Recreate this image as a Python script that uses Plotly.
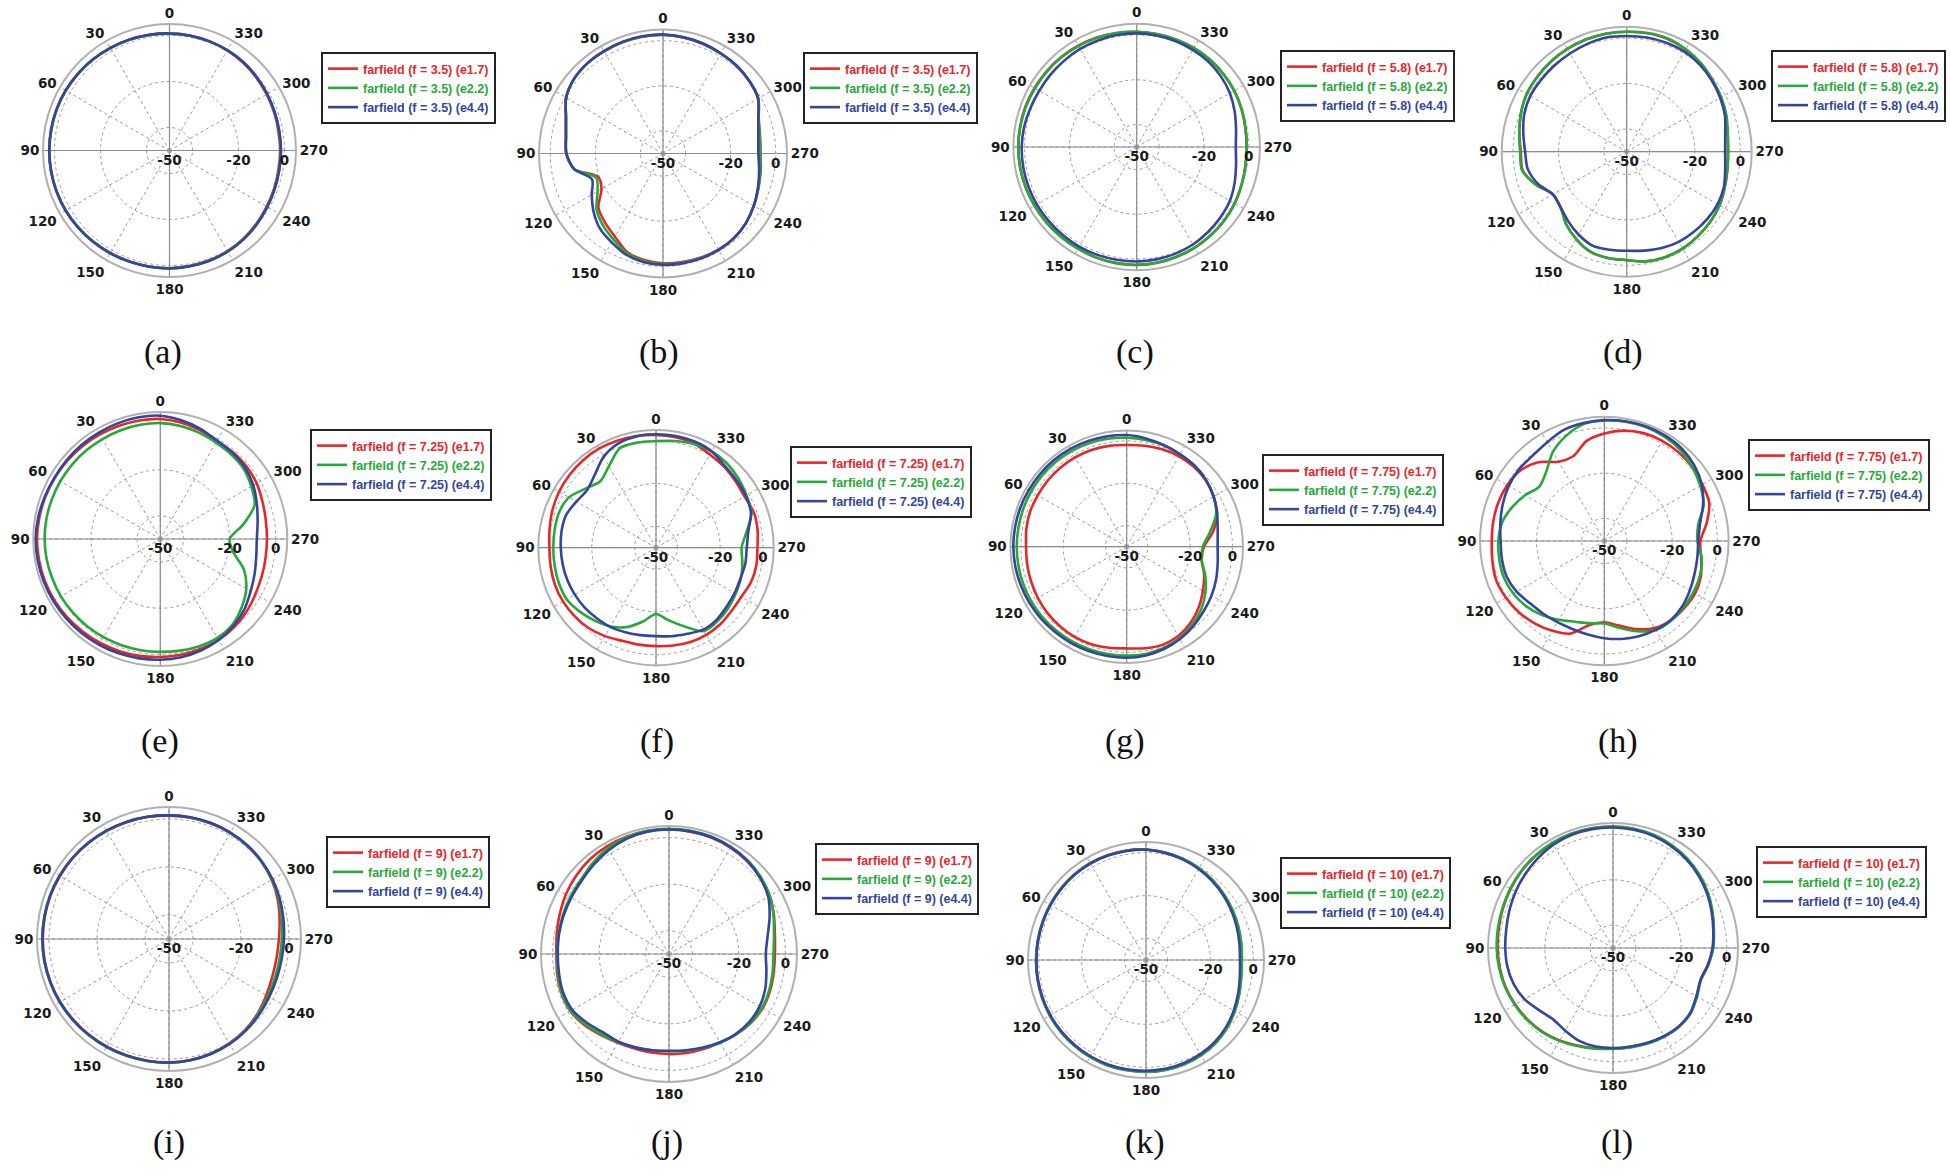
import plotly.graph_objects as go

W, H = 1950, 1176

# angle grid in degrees (0 at top, counter-clockwise), values in dB
ANGLES = list(range(0, 360, 10))
SERIES = ["e1.7", "e2.2", "e4.4"]
COLORS = ["#e8262a", "#27a83a", "#33459c"]
FREQS = ["3.5", "3.5", "5.8", "5.8", "7.25", "7.25", "7.75", "7.75", "9", "9", "10", "10"]
CAPTIONS = ["(a)", "(b)", "(c)", "(d)", "(e)", "(f)", "(g)", "(h)", "(i)", "(j)", "(k)", "(l)"]

A_RED = [0.8, 1.0, 1.2, 1.4, 1.7, 1.9, 2.1, 2.2, 2.2, 2.2, 2.2, 2.2, 2.1, 1.9, 1.7, 1.4, 1.3, 1.2,
         1.2, 1.0, 0.8, 0.5, 0.0, -0.6, -1.2, -1.6, -1.9, -1.9, -1.9, -1.6, -1.2, -0.7, -0.2, 0.2, 0.5, 0.7]
A_GREEN = [0.8, 1.0, 1.2, 1.4, 1.7, 1.9, 2.1, 2.2, 2.2, 2.3, 2.3, 2.2, 2.1, 1.9, 1.7, 1.5, 1.3, 1.2,
           1.2, 1.0, 0.9, 0.6, 0.2, -0.4, -1.0, -1.4, -1.6, -1.6, -1.6, -1.4, -1.0, -0.5, 0.0, 0.3, 0.5, 0.7]
A_BLUE = [0.9, 1.1, 1.3, 1.5, 1.8, 2.0, 2.2, 2.3, 2.3, 2.3, 2.3, 2.3, 2.2, 2.0, 1.8, 1.6, 1.4, 1.3,
          1.3, 1.1, 1.0, 0.7, 0.3, -0.3, -0.9, -1.3, -1.5, -1.5, -1.5, -1.3, -0.9, -0.4, 0.1, 0.4, 0.6, 0.8]

B_RED = [2.6, 2.6, 2.5, 2.3, 2.2, 1.5, -0.4, -4.2, -6.3, -7.0, -10.0, -19.5, -18.5, -12.6, -10.0, -7.4, -3.5, -2.0,
         -1.3, -1.1, -0.9, -0.8, -1.0, -2.0, -3.5, -5.0, -6.0, -6.7, -6.3, -4.8, -1.2, 0.0, 0.8, 1.2, 1.8, 2.3]
B_GREEN = [2.7, 2.7, 2.6, 2.4, 2.2, 1.5, -0.4, -4.2, -6.3, -7.1, -10.0, -18.5, -16.5, -11.5, -8.5, -6.0, -3.0, -1.5,
           -1.0, -0.8, -0.7, -0.7, -1.0, -2.0, -3.5, -5.0, -6.1, -6.8, -6.4, -4.9, -1.2, 0.0, 0.8, 1.2, 1.8, 2.3]
B_BLUE = [2.8, 2.8, 2.7, 2.4, 2.2, 1.5, -0.4, -4.2, -6.3, -7.2, -10.0, -16.5, -13.5, -9.8, -6.5, -4.5, -2.2, -1.0,
          -0.6, -0.5, -0.5, -0.6, -1.0, -2.0, -3.5, -5.2, -6.7, -7.7, -7.1, -5.0, -1.3, 0.0, 0.8, 1.3, 1.9, 2.4]

C_RED = [1.4, 1.6, 2.0, 2.2, 2.4, 2.5, 2.6, 2.8, 2.8, 2.8, 2.8, 2.7, 2.6, 2.5, 2.4, 2.4, 2.5, 2.6,
         2.6, 2.4, 2.1, 1.8, 1.4, 1.0, 0.4, -0.3, -0.8, -1.0, -0.8, -0.3, 0.2, 0.5, 0.8, 1.0, 1.1, 1.2]
C_GREEN = [1.4, 1.6, 1.8, 2.0, 2.2, 2.3, 2.4, 2.6, 2.7, 2.8, 2.8, 2.7, 2.6, 2.5, 2.4, 2.4, 2.5, 2.6,
           2.6, 2.4, 2.1, 1.8, 1.4, 1.0, 0.5, -0.2, -0.7, -0.9, -0.7, -0.2, 0.3, 0.6, 0.9, 1.0, 1.1, 1.2]
C_BLUE = [0.7, 0.7, 0.6, 0.5, 0.3, 0.2, 0.2, 0.5, 1.0, 1.3, 1.4, 1.4, 1.4, 1.3, 1.3, 1.3, 1.2, 1.1,
          1.1, 0.9, 0.6, 0.2, -0.5, -1.2, -2.0, -3.5, -5.0, -5.8, -5.0, -3.5, -2.0, -1.0, -0.3, 0.0, 0.3, 0.5]

D_RED = [2.8, 2.7, 2.5, 2.2, 1.8, 1.3, 0.8, -0.5, -2.0, -3.4, -3.5, -7.5, -12.5, -12.0, -8.5, -5.6, -3.2, -2.5,
         -2.3, -1.0, -0.6, -0.8, -1.4, -2.0, -2.8, -4.1, -5.0, -5.5, -5.0, -3.5, -2.2, -0.8, 0.8, 2.0, 2.8, 2.9]
D_GREEN = [2.8, 2.7, 2.5, 2.2, 1.8, 1.3, 0.8, -0.5, -2.0, -3.1, -3.2, -7.5, -12.5, -12.0, -8.5, -5.6, -3.2, -2.5,
           -2.3, -1.0, -0.6, -0.8, -1.4, -2.0, -2.8, -4.1, -5.0, -5.3, -4.8, -3.3, -2.0, -0.8, 0.8, 2.0, 3.0, 3.0]
D_BLUE = [0.9, 1.0, 0.5, -0.1, -0.5, -0.8, -1.0, -2.0, -3.8, -5.3, -5.8, -8.5, -12.5, -12.0, -10.0, -7.8, -6.0, -6.2,
          -6.4, -5.8, -4.9, -4.2, -4.0, -3.8, -3.8, -4.5, -6.0, -6.7, -6.0, -4.0, -2.5, -1.2, 0.0, 0.8, 1.0, 1.0]

E_RED = [2.0, 2.1, 2.2, 2.3, 2.5, 2.7, 2.8, 3.0, 3.2, 3.4, 3.3, 3.2, 3.0, 2.7, 2.3, 2.0, 1.7, 1.4,
         1.1, 0.9, 0.7, 0.5, -0.2, -1.2, -2.4, -3.2, -3.7, -3.8, -3.6, -2.9, -1.8, -1.2, -1.0, -1.0, 0.2, 1.2]
E_GREEN = [0.2, 0.2, 0.1, 0.0, 0.0, 0.0, 0.0, 0.0, 0.1, 0.1, 0.0, -0.2, -0.3, -0.5, -0.7, -0.9, -1.0, -1.1,
           -1.1, -0.9, -0.6, -0.6, -1.5, -4.0, -7.0, -11.5, -18.0, -20.0, -13.5, -6.5, -4.5, -2.8, -2.2, -1.8, -1.0, -0.3]
E_BLUE = [3.4, 3.5, 3.4, 3.2, 3.1, 3.0, 3.0, 3.3, 3.7, 4.0, 3.9, 3.7, 3.5, 3.3, 3.1, 2.9, 2.7, 2.5,
          2.3, 2.0, 1.4, 0.5, -0.8, -2.5, -4.8, -6.5, -7.8, -8.2, -7.2, -5.5, -3.5, -2.0, -1.3, -0.8, 0.8, 2.2]

F_RED = [2.7, 3.0, 3.2, 3.4, 3.2, 2.8, 2.3, 1.5, 0.5, -0.2, 0.0, 0.3, 0.2, -0.3, -1.0, -2.3, -3.7, -4.0,
         -4.0, -3.6, -3.1, -3.0, -3.3, -4.0, -4.0, -2.8, -2.4, -2.6, -1.8, -1.4, -2.2, -1.6, -0.6, 0.3, 1.8, 2.4]
F_GREEN = [-0.2, -0.1, -0.5, -6.0, -9.5, -7.0, -3.0, -1.8, -1.9, -2.0, -1.9, -1.7, -1.8, -3.5, -5.5, -7.5, -10.6, -15.0,
           -19.0, -15.5, -10.8, -5.0, -5.2, -6.0, -7.0, -7.8, -9.0, -10.0, -7.0, -2.5, -1.2, 0.3, 1.5, 2.0, 1.6, 0.6]
F_BLUE = [3.0, 2.8, 1.8, -1.0, -5.5, -8.0, -7.0, -5.3, -5.2, -5.5, -5.7, -5.9, -6.2, -6.5, -7.0, -7.3, -8.0, -8.5,
          -8.7, -8.0, -7.2, -5.8, -6.0, -7.0, -7.6, -8.0, -7.6, -7.6, -6.2, -2.8, -1.5, -0.9, 0.0, 2.0, 2.8, 3.0]

G_RED = [-1.9, -1.6, -1.3, -1.2, -1.2, -1.3, -1.4, -1.4, -1.8, -2.4, -2.2, -1.9, -1.5, -1.1, -0.9, -0.7, -0.9, -1.5,
         -1.9, -1.2, -0.6, -1.2, -3.0, -5.5, -8.4, -11.0, -14.0, -13.5, -8.5, -4.5, -2.6, -1.2, -0.6, -0.6, -1.0, -1.5]
G_GREEN = [1.5, 1.8, 2.0, 2.2, 2.3, 2.3, 2.2, 2.1, 2.0, 2.0, 2.0, 2.0, 2.0, 1.9, 1.8, 1.7, 1.6, 1.5,
           1.5, 1.5, 1.0, 0.0, -1.8, -4.0, -7.0, -10.5, -14.0, -14.0, -10.0, -5.0, -2.5, -1.0, 0.0, 0.5, 1.0, 1.2]
G_BLUE = [2.8, 3.0, 3.2, 3.4, 3.5, 3.5, 3.5, 3.6, 3.6, 3.6, 3.5, 3.3, 3.1, 2.9, 2.7, 2.6, 2.5, 2.5,
          2.5, 2.2, 1.5, 0.4, -1.0, -2.5, -3.7, -5.0, -6.3, -7.0, -6.3, -4.5, -2.5, -1.0, 0.0, 0.5, 1.2, 2.0]

H_RED = [-2.4, -5.0, -10.0, -9.5, -4.5, -1.5, -0.5, -0.1, -0.1, -0.2, 0.3, 0.9, 0.2, -0.8, -2.3, -4.1, -6.4, -12.3,
         -14.0, -12.0, -8.5, -5.5, -4.2, -3.8, -3.6, -4.5, -6.5, -7.5, -4.0, -0.6, 0.1, 0.8, 1.2, 1.2, 0.8, -0.4]
H_GREEN = [3.3, 2.5, -0.5, -4.5, -10.0, -12.5, -9.5, -6.5, -4.0, -3.1, -2.8, -2.7, -3.5, -5.0, -7.2, -9.8, -12.0, -13.0,
           -13.5, -11.0, -7.5, -4.5, -4.0, -4.2, -4.5, -5.0, -6.2, -8.8, -7.8, -3.2, -1.0, 0.8, 2.5, 3.3, 3.7, 3.6]
H_BLUE = [3.5, 3.0, 2.3, 0.5, -0.7, -0.7, -1.2, -2.2, -3.3, -4.1, -4.0, -4.0, -5.2, -7.1, -8.0, -8.5, -8.6, -8.0,
          -7.0, -6.0, -5.2, -4.6, -4.3, -5.0, -6.3, -7.5, -8.2, -8.4, -7.0, -3.5, -0.2, 2.0, 3.4, 3.8, 4.0, 3.8]

I_RED = [1.4, 1.6, 1.8, 2.0, 2.2, 2.4, 2.5, 2.6, 2.6, 2.6, 2.6, 2.5, 2.4, 2.2, 2.0, 1.8, 1.6, 1.5,
         1.4, 1.2, 0.8, 0.2, -0.6, -1.8, -3.2, -4.2, -4.5, -4.2, -3.2, -1.8, -0.6, 0.2, 0.7, 1.0, 1.2, 1.3]
I_GREEN = [1.5, 1.7, 1.9, 2.1, 2.3, 2.5, 2.7, 2.8, 2.8, 2.8, 2.8, 2.7, 2.6, 2.4, 2.2, 2.0, 1.8, 1.6,
           1.5, 1.3, 0.9, 0.4, -0.4, -1.4, -2.4, -3.0, -3.2, -3.0, -2.3, -1.3, -0.4, 0.3, 0.8, 1.1, 1.3, 1.4]
I_BLUE = [1.5, 1.7, 1.9, 2.1, 2.3, 2.5, 2.6, 2.7, 2.7, 2.7, 2.7, 2.6, 2.5, 2.3, 2.1, 1.9, 1.7, 1.6,
          1.5, 1.3, 1.0, 0.5, -0.2, -1.0, -1.8, -2.2, -2.3, -2.1, -1.6, -0.9, -0.2, 0.4, 0.9, 1.2, 1.4, 1.5]

J_RED = [3.5, 3.6, 3.6, 3.4, 3.0, 2.2, 1.2, 0.0, -1.0, -1.6, -1.2, -0.8, -1.0, -2.5, -4.5, -6.0, -6.8, -7.0,
         -7.0, -6.8, -6.5, -6.0, -5.0, -4.0, -3.5, -3.8, -4.3, -4.5, -3.8, -2.0, 0.0, 1.2, 2.2, 2.8, 3.2, 3.4]
J_GREEN = [3.8, 3.8, 3.4, 2.5, 1.0, -0.5, -1.0, -1.4, -1.8, -2.0, -1.6, -1.0, -1.2, -3.0, -5.0, -6.3, -7.3, -8.0,
           -8.2, -7.8, -7.0, -6.0, -5.0, -4.2, -3.8, -4.2, -4.8, -5.1, -4.2, -2.2, 0.0, 1.5, 2.6, 3.2, 3.6, 3.8]
J_BLUE = [3.5, 3.4, 2.8, 1.6, 0.2, -1.0, -1.5, -1.8, -2.0, -2.2, -2.0, -1.6, -2.0, -4.0, -6.0, -6.5, -7.3, -8.0,
          -8.4, -8.0, -7.2, -6.2, -5.2, -4.8, -5.0, -6.0, -7.5, -8.4, -7.0, -4.0, -0.8, 1.0, 2.2, 3.0, 3.4, 3.5]

K_RED = [1.5, 1.8, 2.0, 2.1, 2.0, 1.8, 1.5, 1.3, 1.2, 1.2, 1.3, 1.5, 1.7, 1.9, 2.0, 2.1, 2.2, 2.1,
         2.1, 2.0, 1.7, 1.2, 0.4, -0.8, -2.3, -3.8, -5.0, -5.4, -5.0, -4.3, -3.5, -2.6, -1.6, -0.7, 0.2, 0.9]
K_GREEN = [1.5, 1.8, 2.0, 2.1, 2.0, 1.8, 1.6, 1.4, 1.3, 1.3, 1.4, 1.6, 1.8, 2.0, 2.1, 2.2, 2.3, 2.2,
           2.2, 2.1, 1.8, 1.3, 0.5, -0.7, -2.2, -3.7, -4.9, -5.3, -4.9, -4.2, -3.4, -2.5, -1.5, -0.6, 0.2, 0.9]
K_BLUE = [1.4, 1.6, 1.8, 1.9, 1.8, 1.6, 1.4, 1.2, 1.1, 1.1, 1.2, 1.3, 1.5, 1.6, 1.7, 1.8, 1.8, 1.7,
          1.6, 1.5, 1.2, 0.7, -0.1, -1.3, -2.8, -4.3, -5.6, -6.2, -5.8, -5.0, -4.0, -3.0, -2.0, -1.0, -0.1, 0.7]

L_RED = [3.4, 3.5, 3.5, 3.3, 3.0, 2.6, 2.0, 1.5, 1.0, 0.8, 0.6, 0.3, -0.3, -1.0, -1.8, -3.0, -4.3, -5.2,
         -5.8, -5.8, -5.5, -5.0, -4.8, -5.5, -7.5, -9.0, -7.5, -6.0, -5.0, -3.5, -1.8, -0.3, 1.0, 2.0, 2.8, 3.2]
L_GREEN = [3.4, 3.5, 3.5, 3.4, 3.1, 2.7, 2.2, 1.7, 1.4, 1.2, 0.9, 0.5, -0.1, -0.8, -1.6, -2.8, -4.1, -5.0,
           -5.6, -5.6, -5.3, -4.9, -4.7, -5.4, -7.3, -8.8, -7.4, -5.9, -4.9, -3.4, -1.7, -0.2, 1.1, 2.1, 2.9, 3.3]
L_BLUE = [3.0, 3.1, 3.0, 2.5, 1.5, 0.5, -0.5, -1.5, -2.3, -2.6, -2.8, -3.5, -5.0, -7.5, -9.0, -8.0, -6.5, -6.0,
          -6.0, -6.0, -5.6, -5.2, -5.0, -5.6, -7.6, -9.0, -7.6, -6.2, -5.2, -3.8, -2.2, -0.7, 0.6, 1.6, 2.4, 2.8]

PANELS = [
    (A_RED, A_GREEN, A_BLUE), (B_RED, B_GREEN, B_BLUE), (C_RED, C_GREEN, C_BLUE), (D_RED, D_GREEN, D_BLUE),
    (E_RED, E_GREEN, E_BLUE), (F_RED, F_GREEN, F_BLUE), (G_RED, G_GREEN, G_BLUE), (H_RED, H_GREEN, H_BLUE),
    (I_RED, I_GREEN, I_BLUE), (J_RED, J_GREEN, J_BLUE), (K_RED, K_GREEN, K_BLUE), (L_RED, L_GREEN, L_BLUE),
]

# layout geometry in screen pixels: polar centre/radius, legend top-left, caption centre
POLAR_CX = [169.5, 663, 1136.7, 1626.7, 160.3, 656, 1126.7, 1604.3, 169, 669, 1146, 1613]
POLAR_CY = [150.5, 153.5, 147, 151.7, 539, 547.7, 546.7, 541, 939, 954, 960, 948]
POLAR_R = [126.5, 124, 123.3, 125, 127, 117.7, 116.3, 124.3, 132, 128, 118, 125]
LEG_LEFT = [321, 803, 1280, 1771, 310, 790, 1262, 1748, 326, 815, 1280, 1756]
LEG_TOP = [52, 52, 50, 50, 429, 446, 454, 439, 836, 843, 857, 846]
CAP_X = [163, 659, 1135, 1623, 160, 657, 1125, 1618, 169, 667, 1145, 1617]
CAP_Y = [352, 352, 352, 352, 741, 741, 741, 741, 1142, 1142, 1142, 1142]

ANG_TICKS = list(range(0, 360, 30))
tick_font = dict(family="DejaVu Sans", size=13.5, color="#1a1a1a", weight="bold")


def px_x(v):
    return v / W


def px_y(v):
    return 1 - v / H


fig = go.Figure()
layout = dict(width=W, height=H, margin=dict(l=0, r=0, t=0, b=0),
              paper_bgcolor="white", plot_bgcolor="white", annotations=[])

for k, curves in enumerate(PANELS):
    pid = "polar" if k == 0 else f"polar{k + 1}"
    lid = "legend" if k == 0 else f"legend{k + 1}"
    cx, cy, R = POLAR_CX[k], POLAR_CY[k], POLAR_R[k]

    # solid cross through the centre
    for t0, t1 in [(0, 180), (90, 270)]:
        fig.add_trace(go.Scatterpolar(r=[5, -50, 5], theta=[t0, t0, t1], mode="lines",
                                      line=dict(color="#8c8c8c", width=1.2), subplot=pid,
                                      showlegend=False, hoverinfo="skip"))

    for vals, ser, col in zip(curves, SERIES, COLORS):
        name = f"<span style='color:{col}'>farfield (f = {FREQS[k]}) ({ser})</span>"
        fig.add_trace(go.Scatterpolar(r=vals + vals[:1], theta=ANGLES + ANGLES[:1], mode="lines",
                                      line=dict(color=col, width=2.6, shape="spline", smoothing=0.8),
                                      name=name, subplot=pid, legend=lid))

    layout[pid] = dict(
        domain=dict(x=[px_x(cx - R), px_x(cx + R)], y=[px_y(cy + R), px_y(cy - R)]),
        bgcolor="white",
        angularaxis=dict(rotation=90, direction="counterclockwise", tickvals=ANG_TICKS,
                         ticktext=[str(a) for a in ANG_TICKS], ticks="", showline=True,
                         linecolor="#b0b0b0", linewidth=2, gridcolor="#9a9a9a", griddash="dot",
                         gridwidth=1, tickfont=tick_font),
        radialaxis=dict(range=[-50, 5], tickvals=[-50, -40, -20, 0], ticktext=["-50", "", "-20", "0"],
                        showline=False, ticks="", angle=0, side="clockwise", gridcolor="#9a9a9a",
                        griddash="dot", gridwidth=1, tickfont=tick_font),
    )
    layout[lid] = dict(x=px_x(LEG_LEFT[k]), y=px_y(LEG_TOP[k]), xanchor="left", yanchor="top",
                       bgcolor="white", bordercolor="#222", borderwidth=2, tracegroupgap=0,
                       itemwidth=30,
                       font=dict(family="Liberation Sans", size=12.5, weight="bold"))
    layout["annotations"].append(dict(text=CAPTIONS[k], x=px_x(CAP_X[k]), y=px_y(CAP_Y[k]),
                                      xref="paper", yref="paper", xanchor="center", yanchor="middle",
                                      showarrow=False,
                                      font=dict(family="Liberation Serif", size=34, color="#111")))

fig.update_layout(**layout)
# drop the default page margin so the figure sits at the window's top-left corner
fig.write_html("out.html", config={"displayModeBar": False},
               post_script="document.body.style.margin = '0';")
